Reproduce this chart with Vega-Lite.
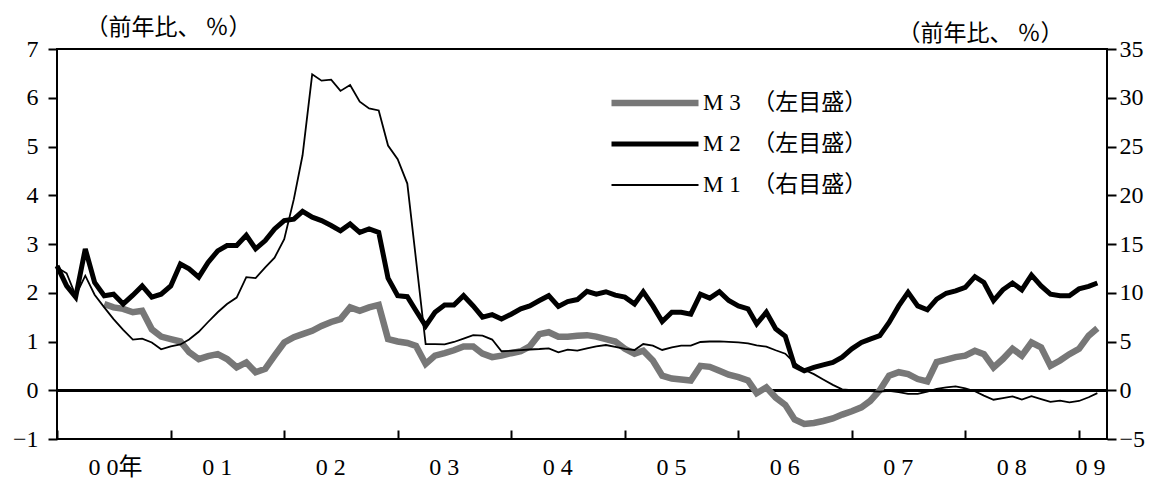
{
  "$schema": "https://vega.github.io/schema/vega-lite/v6.json",
  "width": 1050,
  "height": 390,
  "autosize": "none",
  "padding": {"left": 57, "top": 49, "right": 48, "bottom": 47},
  "background": "white",
  "config": {
    "view": {"stroke": "black", "strokeWidth": 2},
    "axis": {"domain": false, "grid": false, "labelColor": "black", "tickColor": "black", "titleColor": "black"}
  },
  "data": {"values": [
    {"date": "2000-01-01", "M1": 12.6, "M2": 2.55, "M3": null},
    {"date": "2000-02-01", "M1": 12.0, "M2": 2.14, "M3": null},
    {"date": "2000-03-01", "M1": 9.7, "M2": 1.91, "M3": null},
    {"date": "2000-04-01", "M1": 11.75, "M2": 2.9, "M3": null},
    {"date": "2000-05-01", "M1": 9.8, "M2": 2.21, "M3": null},
    {"date": "2000-06-01", "M1": 8.5, "M2": 1.94, "M3": 1.77},
    {"date": "2000-07-01", "M1": 7.3, "M2": 1.97, "M3": 1.7},
    {"date": "2000-08-01", "M1": 6.2, "M2": 1.77, "M3": 1.67},
    {"date": "2000-09-01", "M1": 5.2, "M2": 1.95, "M3": 1.6},
    {"date": "2000-10-01", "M1": 5.3, "M2": 2.14, "M3": 1.63},
    {"date": "2000-11-01", "M1": 4.9, "M2": 1.91, "M3": 1.25},
    {"date": "2000-12-01", "M1": 4.2, "M2": 1.97, "M3": 1.1},
    {"date": "2001-01-01", "M1": 4.5, "M2": 2.14, "M3": 1.05},
    {"date": "2001-02-01", "M1": 4.7, "M2": 2.59, "M3": 1.0},
    {"date": "2001-03-01", "M1": 5.2, "M2": 2.49, "M3": 0.78},
    {"date": "2001-04-01", "M1": 6.0, "M2": 2.32, "M3": 0.64},
    {"date": "2001-05-01", "M1": 7.0, "M2": 2.62, "M3": 0.7},
    {"date": "2001-06-01", "M1": 8.0, "M2": 2.86, "M3": 0.74},
    {"date": "2001-07-01", "M1": 8.85, "M2": 2.97, "M3": 0.64},
    {"date": "2001-08-01", "M1": 9.5, "M2": 2.97, "M3": 0.47},
    {"date": "2001-09-01", "M1": 11.6, "M2": 3.18, "M3": 0.57},
    {"date": "2001-10-01", "M1": 11.5, "M2": 2.9, "M3": 0.37},
    {"date": "2001-11-01", "M1": 12.6, "M2": 3.07, "M3": 0.44},
    {"date": "2001-12-01", "M1": 13.6, "M2": 3.31, "M3": 0.71},
    {"date": "2002-01-01", "M1": 15.5, "M2": 3.48, "M3": 0.98},
    {"date": "2002-02-01", "M1": 19.6, "M2": 3.51, "M3": 1.09},
    {"date": "2002-03-01", "M1": 24.1, "M2": 3.67, "M3": 1.15},
    {"date": "2002-04-01", "M1": 32.4, "M2": 3.55, "M3": 1.22},
    {"date": "2002-05-01", "M1": 31.75, "M2": 3.48, "M3": 1.32},
    {"date": "2002-06-01", "M1": 31.85, "M2": 3.38, "M3": 1.4},
    {"date": "2002-07-01", "M1": 30.7, "M2": 3.27, "M3": 1.46},
    {"date": "2002-08-01", "M1": 31.3, "M2": 3.41, "M3": 1.7},
    {"date": "2002-09-01", "M1": 29.6, "M2": 3.24, "M3": 1.63},
    {"date": "2002-10-01", "M1": 28.9, "M2": 3.31, "M3": 1.7},
    {"date": "2002-11-01", "M1": 28.7, "M2": 3.24, "M3": 1.75},
    {"date": "2002-12-01", "M1": 25.1, "M2": 2.3, "M3": 1.05},
    {"date": "2003-01-01", "M1": 23.7, "M2": 1.94, "M3": 1.0},
    {"date": "2003-02-01", "M1": 21.2, "M2": 1.92, "M3": 0.97},
    {"date": "2003-03-01", "M1": 13.4, "M2": 1.63, "M3": 0.91},
    {"date": "2003-04-01", "M1": 4.74, "M2": 1.32, "M3": 0.54},
    {"date": "2003-05-01", "M1": 4.74, "M2": 1.6, "M3": 0.71},
    {"date": "2003-06-01", "M1": 4.7, "M2": 1.75, "M3": 0.76},
    {"date": "2003-07-01", "M1": 4.95, "M2": 1.75, "M3": 0.82},
    {"date": "2003-08-01", "M1": 5.3, "M2": 1.94, "M3": 0.9},
    {"date": "2003-09-01", "M1": 5.65, "M2": 1.73, "M3": 0.9},
    {"date": "2003-10-01", "M1": 5.6, "M2": 1.5, "M3": 0.75},
    {"date": "2003-11-01", "M1": 5.2, "M2": 1.55, "M3": 0.68},
    {"date": "2003-12-01", "M1": 4.0, "M2": 1.46, "M3": 0.71},
    {"date": "2004-01-01", "M1": 4.05, "M2": 1.56, "M3": 0.76},
    {"date": "2004-02-01", "M1": 4.12, "M2": 1.67, "M3": 0.8},
    {"date": "2004-03-01", "M1": 4.18, "M2": 1.73, "M3": 0.9},
    {"date": "2004-04-01", "M1": 4.23, "M2": 1.84, "M3": 1.15},
    {"date": "2004-05-01", "M1": 4.3, "M2": 1.94, "M3": 1.19},
    {"date": "2004-06-01", "M1": 3.89, "M2": 1.72, "M3": 1.1},
    {"date": "2004-07-01", "M1": 4.16, "M2": 1.82, "M3": 1.1},
    {"date": "2004-08-01", "M1": 4.06, "M2": 1.86, "M3": 1.12},
    {"date": "2004-09-01", "M1": 4.3, "M2": 2.03, "M3": 1.13},
    {"date": "2004-10-01", "M1": 4.5, "M2": 1.97, "M3": 1.1},
    {"date": "2004-11-01", "M1": 4.64, "M2": 2.02, "M3": 1.05},
    {"date": "2004-12-01", "M1": 4.45, "M2": 1.95, "M3": 1.0},
    {"date": "2005-01-01", "M1": 4.25, "M2": 1.91, "M3": 0.85},
    {"date": "2005-02-01", "M1": 4.13, "M2": 1.77, "M3": 0.75},
    {"date": "2005-03-01", "M1": 4.74, "M2": 2.02, "M3": 0.81},
    {"date": "2005-04-01", "M1": 4.57, "M2": 1.73, "M3": 0.61},
    {"date": "2005-05-01", "M1": 4.13, "M2": 1.41, "M3": 0.3},
    {"date": "2005-06-01", "M1": 4.4, "M2": 1.6, "M3": 0.24},
    {"date": "2005-07-01", "M1": 4.57, "M2": 1.6, "M3": 0.22},
    {"date": "2005-08-01", "M1": 4.57, "M2": 1.56, "M3": 0.2},
    {"date": "2005-09-01", "M1": 4.95, "M2": 1.97, "M3": 0.5},
    {"date": "2005-10-01", "M1": 5.0, "M2": 1.89, "M3": 0.48},
    {"date": "2005-11-01", "M1": 5.02, "M2": 2.02, "M3": 0.4},
    {"date": "2005-12-01", "M1": 4.97, "M2": 1.84, "M3": 0.32},
    {"date": "2006-01-01", "M1": 4.92, "M2": 1.73, "M3": 0.27},
    {"date": "2006-02-01", "M1": 4.8, "M2": 1.67, "M3": 0.2},
    {"date": "2006-03-01", "M1": 4.6, "M2": 1.36, "M3": -0.06},
    {"date": "2006-04-01", "M1": 4.47, "M2": 1.6, "M3": 0.06},
    {"date": "2006-05-01", "M1": 4.1, "M2": 1.26, "M3": -0.15},
    {"date": "2006-06-01", "M1": 3.75, "M2": 1.11, "M3": -0.3},
    {"date": "2006-07-01", "M1": 2.8, "M2": 0.5, "M3": -0.6},
    {"date": "2006-08-01", "M1": 2.1, "M2": 0.4, "M3": -0.69},
    {"date": "2006-09-01", "M1": 1.65, "M2": 0.47, "M3": -0.67},
    {"date": "2006-10-01", "M1": 1.1, "M2": 0.52, "M3": -0.63},
    {"date": "2006-11-01", "M1": 0.55, "M2": 0.57, "M3": -0.58},
    {"date": "2006-12-01", "M1": 0.1, "M2": 0.68, "M3": -0.5},
    {"date": "2007-01-01", "M1": 0.0, "M2": 0.85, "M3": -0.43},
    {"date": "2007-02-01", "M1": 0.0, "M2": 0.98, "M3": -0.35},
    {"date": "2007-03-01", "M1": -0.1, "M2": 1.05, "M3": -0.22},
    {"date": "2007-04-01", "M1": -0.15, "M2": 1.12, "M3": 0.0},
    {"date": "2007-05-01", "M1": -0.05, "M2": 1.39, "M3": 0.3},
    {"date": "2007-06-01", "M1": -0.2, "M2": 1.73, "M3": 0.37},
    {"date": "2007-07-01", "M1": -0.38, "M2": 2.01, "M3": 0.33},
    {"date": "2007-08-01", "M1": -0.38, "M2": 1.73, "M3": 0.23},
    {"date": "2007-09-01", "M1": -0.15, "M2": 1.65, "M3": 0.18},
    {"date": "2007-10-01", "M1": 0.13, "M2": 1.87, "M3": 0.58},
    {"date": "2007-11-01", "M1": 0.3, "M2": 1.99, "M3": 0.63},
    {"date": "2007-12-01", "M1": 0.4, "M2": 2.04, "M3": 0.68},
    {"date": "2008-01-01", "M1": 0.2, "M2": 2.11, "M3": 0.71},
    {"date": "2008-02-01", "M1": -0.1, "M2": 2.33, "M3": 0.81},
    {"date": "2008-03-01", "M1": -0.55, "M2": 2.21, "M3": 0.74},
    {"date": "2008-04-01", "M1": -0.97, "M2": 1.84, "M3": 0.47},
    {"date": "2008-05-01", "M1": -0.8, "M2": 2.06, "M3": 0.64},
    {"date": "2008-06-01", "M1": -0.63, "M2": 2.2, "M3": 0.85},
    {"date": "2008-07-01", "M1": -0.95, "M2": 2.06, "M3": 0.71},
    {"date": "2008-08-01", "M1": -0.6, "M2": 2.36, "M3": 0.98},
    {"date": "2008-09-01", "M1": -0.9, "M2": 2.14, "M3": 0.88},
    {"date": "2008-10-01", "M1": -1.2, "M2": 1.97, "M3": 0.5},
    {"date": "2008-11-01", "M1": -1.07, "M2": 1.94, "M3": 0.61},
    {"date": "2008-12-01", "M1": -1.25, "M2": 1.94, "M3": 0.74},
    {"date": "2009-01-01", "M1": -1.1, "M2": 2.08, "M3": 0.85},
    {"date": "2009-02-01", "M1": -0.72, "M2": 2.13, "M3": 1.12},
    {"date": "2009-03-01", "M1": -0.3, "M2": 2.2, "M3": 1.27}
  ]},
  "layer": [
    {
      "layer": [
        {
          "mark": {"type": "rule", "color": "black", "strokeWidth": 2},
          "encoding": {
            "y": {"datum": 0, "type": "quantitative", "scale": {"domain": [-1, 7]},
              "axis": {"orient": "left", "values": [-1, 0, 1, 2, 3, 4, 5, 6, 7], "title": "（前年比、 ％）", "titleAngle": 0, "titleX": 111, "titleY": -22, "titleAlign": "center", "titleBaseline": "middle", "titleFont": "Noto Sans CJK JP", "titleFontSize": 23, "titleFontWeight": "normal", "tickSize": 9, "tickWidth": 2, "labelPadding": 10, "labelFont": "Liberation Serif", "labelFontSize": 24}}
          }
        },
        {
          "transform": [{"fold": ["M3", "M2"], "as": ["series", "value"]}],
          "mark": {"type": "line"},
          "encoding": {
            "x": {"field": "date", "type": "temporal",
              "scale": {"type": "utc", "domain": [{"year": 2000, "month": 1, "date": 1, "utc": true}, {"year": 2009, "month": 4, "date": 1, "utc": true}]},
              "axis": {"title": null, "values": [
                {"year": 2000, "month": 1, "date": 1, "utc": true}, {"year": 2001, "month": 1, "date": 1, "utc": true},
                {"year": 2002, "month": 1, "date": 1, "utc": true}, {"year": 2003, "month": 1, "date": 1, "utc": true},
                {"year": 2004, "month": 1, "date": 1, "utc": true}, {"year": 2005, "month": 1, "date": 1, "utc": true},
                {"year": 2006, "month": 1, "date": 1, "utc": true}, {"year": 2007, "month": 1, "date": 1, "utc": true},
                {"year": 2008, "month": 1, "date": 1, "utc": true}, {"year": 2009, "month": 1, "date": 1, "utc": true}],
                "labelExpr": "utcyear(datum.value) == 2000 ? '0 0年' : substring(utcFormat(datum.value, '%y'), 0, 1) + ' ' + substring(utcFormat(datum.value, '%y'), 1, 2)",
                "tickSize": -9, "tickWidth": 2, "labelAlign": "left",
                "labelOffset": {"condition": {"test": "utcyear(datum.value) == 2009", "value": -4}, "value": 31},
                "labelPadding": 25, "labelFont": "Liberation Serif, Noto Sans CJK JP", "labelFontSize": 24, "labelBaseline": "top", "labelFlush": false, "labelOverlap": false}},
            "y": {"field": "value", "type": "quantitative", "scale": {"domain": [-1, 7]},
              "axis": {"orient": "left", "values": [-1, 0, 1, 2, 3, 4, 5, 6, 7], "title": "（前年比、 ％）", "titleAngle": 0, "titleX": 111, "titleY": -22, "titleAlign": "center", "titleBaseline": "middle", "titleFont": "Noto Sans CJK JP", "titleFontSize": 23, "titleFontWeight": "normal", "tickSize": 9, "tickWidth": 2, "labelPadding": 10, "labelFont": "Liberation Serif", "labelFontSize": 24}},
            "color": {"field": "series", "type": "nominal",
              "scale": {"domain": ["M3", "M2", "M1"], "range": ["#777777", "#000000", "#000000"]},
              "legend": {"orient": "none", "legendX": 551, "legendY": 44, "title": null, "padding": 0, "symbolType": "stroke", "symbolSize": 7569, "clipHeight": 20, "rowPadding": 18, "labelFont": "Liberation Serif, Noto Sans CJK JP", "labelFontSize": 23, "labelColor": "black", "labelOffset": 1, "labelLimit": 400,
                "labelExpr": "datum.value == 'M3' ? 'M 3　（左目盛）' : datum.value == 'M2' ? 'M 2　（左目盛）' : 'M 1　（右目盛）'"}},
            "strokeWidth": {"field": "series", "type": "nominal",
              "scale": {"type": "ordinal", "domain": ["M3", "M2", "M1"], "range": [6.5, 5, 1.8]},
              "legend": {"orient": "none", "legendX": 551, "legendY": 44, "title": null, "padding": 0, "symbolType": "stroke", "symbolSize": 7569, "clipHeight": 20, "rowPadding": 18, "labelFont": "Liberation Serif, Noto Sans CJK JP", "labelFontSize": 23, "labelColor": "black", "labelOffset": 1, "labelLimit": 400,
                "labelExpr": "datum.value == 'M3' ? 'M 3　（左目盛）' : datum.value == 'M2' ? 'M 2　（左目盛）' : 'M 1　（右目盛）'"}}
          }
        }
      ]
    },
    {
      "transform": [{"fold": ["M1"], "as": ["series", "value"]}],
      "mark": {"type": "line"},
      "encoding": {
        "x": {"field": "date", "type": "temporal"},
        "y": {"field": "value", "type": "quantitative", "scale": {"domain": [-5, 35]},
          "axis": {"orient": "right", "values": [-5, 0, 5, 10, 15, 20, 25, 30, 35], "title": "（前年比、 ％）", "titleAngle": 0, "titleX": -127, "titleY": -16, "titleAlign": "center", "titleBaseline": "middle", "titleFont": "Noto Sans CJK JP", "titleFontSize": 23, "titleFontWeight": "normal", "tickSize": 9, "tickWidth": 2, "labelPadding": 3, "labelFont": "Liberation Serif", "labelFontSize": 24}},
        "color": {"field": "series", "type": "nominal", "scale": {"domain": ["M3", "M2", "M1"], "range": ["#777777", "#000000", "#000000"]}},
        "strokeWidth": {"field": "series", "type": "nominal", "scale": {"type": "ordinal", "domain": ["M3", "M2", "M1"], "range": [6.5, 5, 1.8]}}
      }
    }
  ],
  "resolve": {"scale": {"y": "independent"}}
}
